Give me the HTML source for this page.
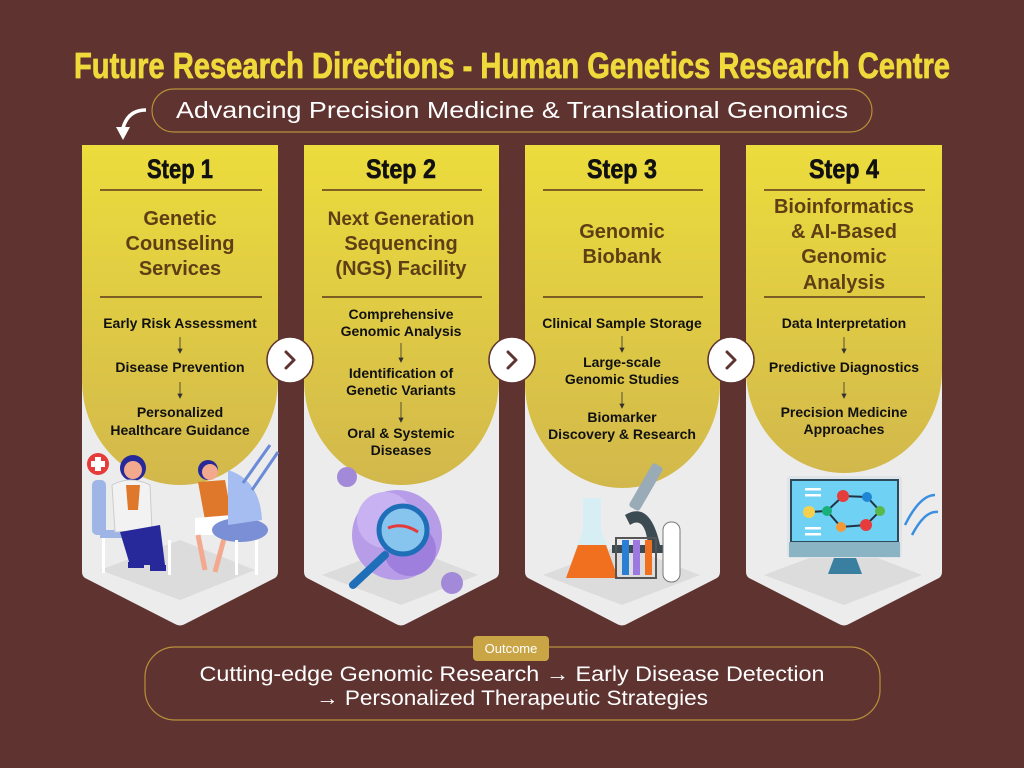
<!DOCTYPE html>
<html><head><meta charset="utf-8"><style>
html,body{margin:0;padding:0;background:#5e3330;}
svg{display:block;}
.t{font-family:"Liberation Sans",sans-serif;}
</style></head><body>
<svg width="1024" height="768" viewBox="0 0 1024 768" xmlns="http://www.w3.org/2000/svg">
<defs>
<linearGradient id="yg" x1="0" y1="0" x2="0" y2="1">
<stop offset="0" stop-color="#ecdc3c"/><stop offset="1" stop-color="#d2b84c"/>
</linearGradient>
</defs>
<rect width="1024" height="768" fill="#5e3330"/>
<text x="512" y="78" text-anchor="middle" class="t" font-size="36" font-weight="bold" fill="#f0d93a" stroke="#f0d93a" stroke-width="0.8" textLength="876" lengthAdjust="spacingAndGlyphs" style="font-family:'Liberation Sans Narrow','Liberation Sans',sans-serif">Future Research Directions - Human Genetics Research Centre</text>
<rect x="152" y="89" width="720" height="43" rx="21.5" fill="none" stroke="#b8903a" stroke-width="1.2"/>
<text x="512" y="118" text-anchor="middle" class="t" font-size="23" fill="#ffffff" textLength="672" lengthAdjust="spacingAndGlyphs">Advancing Precision Medicine &amp; Translational Genomics</text>
<path d="M146,110 Q128,110 123,128" fill="none" stroke="#fff" stroke-width="3.5"/>
<path d="M116,127 L130,127 L123,140 Z" fill="#fff"/>

<g id="cards">
<path d="M82,145 H278 V572 Q278,577 273,579 L185,624 Q180,627 175,624 L87,579 Q82,577 82,572 Z" fill="#ececec"/>
<path d="M82,145 H278 V380 A98,105 0 0 1 82,380 Z" fill="url(#yg)"/>
<path d="M304,145 H499 V572 Q499,577 494,579 L406,624 Q401,627 396,624 L309,579 Q304,577 304,572 Z" fill="#ececec"/>
<path d="M304,145 H499 V380 A97.5,105 0 0 1 304,380 Z" fill="url(#yg)"/>
<path d="M525,145 H720 V572 Q720,577 715,579 L627,624 Q622,627 617,624 L530,579 Q525,577 525,572 Z" fill="#ececec"/>
<path d="M525,145 H720 V383 A97.5,105 0 0 1 525,383 Z" fill="url(#yg)"/>
<path d="M746,145 H942 V572 Q942,577 937,579 L849,624 Q844,627 839,624 L751,579 Q746,577 746,572 Z" fill="#ececec"/>
<path d="M746,145 H942 V370 A98,103 0 0 1 746,370 Z" fill="url(#yg)"/>
</g>

<g stroke="#5a3a1a" stroke-width="1.5">
<line x1="100" y1="190" x2="262" y2="190"/><line x1="100" y1="297" x2="262" y2="297"/>
<line x1="322" y1="190" x2="482" y2="190"/><line x1="322" y1="297" x2="482" y2="297"/>
<line x1="543" y1="190" x2="703" y2="190"/><line x1="543" y1="297" x2="703" y2="297"/>
<line x1="764" y1="190" x2="925" y2="190"/><line x1="764" y1="297" x2="925" y2="297"/>
</g>

<g class="t" text-anchor="middle" font-weight="bold">
<g font-size="27" fill="#111" stroke="#111" stroke-width="0.6" style="font-family:'Liberation Sans Narrow','Liberation Sans',sans-serif">
<text x="180" y="178" textLength="66" lengthAdjust="spacingAndGlyphs">Step 1</text>
<text x="401" y="178" textLength="70" lengthAdjust="spacingAndGlyphs">Step 2</text>
<text x="622" y="178" textLength="70" lengthAdjust="spacingAndGlyphs">Step 3</text>
<text x="844" y="178" textLength="70" lengthAdjust="spacingAndGlyphs">Step 4</text>
</g>
<g font-size="20" fill="#5e3f15">
<text x="180" y="225">Genetic</text>
<text x="180" y="250">Counseling</text>
<text x="180" y="275">Services</text>
<text x="401" y="225" font-size="19">Next Generation</text>
<text x="401" y="250">Sequencing</text>
<text x="401" y="275">(NGS) Facility</text>
<text x="622" y="238">Genomic</text>
<text x="622" y="263">Biobank</text>
<text x="844" y="213">Bioinformatics</text>
<text x="844" y="238">&amp; AI-Based</text>
<text x="844" y="263">Genomic</text>
<text x="844" y="289">Analysis</text>
</g>
<g font-size="14" fill="#111">
<text x="180" y="328">Early Risk Assessment</text>
<text x="180" y="372">Disease Prevention</text>
<text x="180" y="417">Personalized</text>
<text x="180" y="435">Healthcare Guidance</text>
<text x="401" y="319">Comprehensive</text>
<text x="401" y="336">Genomic Analysis</text>
<text x="401" y="378">Identification of</text>
<text x="401" y="395">Genetic Variants</text>
<text x="401" y="438">Oral &amp; Systemic</text>
<text x="401" y="455">Diseases</text>
<text x="622" y="328">Clinical Sample Storage</text>
<text x="622" y="367">Large-scale</text>
<text x="622" y="384">Genomic Studies</text>
<text x="622" y="422">Biomarker</text>
<text x="622" y="439">Discovery &amp; Research</text>
<text x="844" y="328">Data Interpretation</text>
<text x="844" y="372">Predictive Diagnostics</text>
<text x="844" y="417">Precision Medicine</text>
<text x="844" y="434">Approaches</text>
</g>
</g>
<g stroke="#333" stroke-width="0.8" fill="#333">
<line x1="180" y1="337" x2="180" y2="351"/><line x1="180" y1="382" x2="180" y2="396"/>
<line x1="401" y1="343" x2="401" y2="360"/><line x1="401" y1="402" x2="401" y2="420"/>
<line x1="622" y1="336" x2="622" y2="350"/><line x1="622" y1="392" x2="622" y2="406"/>
<line x1="844" y1="337" x2="844" y2="351"/><line x1="844" y1="382" x2="844" y2="396"/>
<path d="M178,349 L182,349 L180,353 Z M178,394 L182,394 L180,398 Z M399,358 L403,358 L401,362 Z M399,418 L403,418 L401,422 Z M620,348 L624,348 L622,352 Z M620,404 L624,404 L622,408 Z M842,349 L846,349 L844,353 Z M842,394 L846,394 L844,398 Z"/>
</g>

<g>
<circle cx="290" cy="360" r="23" fill="#fff" stroke="#5e3330" stroke-width="1.5"/>
<path d="M286,352 L294,360 L286,368" fill="none" stroke="#5e3330" stroke-width="3" stroke-linecap="round" stroke-linejoin="round"/>
<circle cx="512" cy="360" r="23" fill="#fff" stroke="#5e3330" stroke-width="1.5"/>
<path d="M508,352 L516,360 L508,368" fill="none" stroke="#5e3330" stroke-width="3" stroke-linecap="round" stroke-linejoin="round"/>
<circle cx="731" cy="360" r="23" fill="#fff" stroke="#5e3330" stroke-width="1.5"/>
<path d="M727,352 L735,360 L727,368" fill="none" stroke="#5e3330" stroke-width="3" stroke-linecap="round" stroke-linejoin="round"/>
</g>

<path d="M100,570 L180,540 L255,570 L180,600 Z" fill="#dcdcdc"/>
<circle cx="98" cy="464" r="11" fill="#e63b3b"/><rect x="95" y="457" width="6" height="14" fill="#fff"/><rect x="91" y="461" width="14" height="6" fill="#fff"/>
<rect x="92" y="480" width="14" height="55" rx="5" fill="#9fb5e6"/>
<rect x="100" y="530" width="35" height="8" fill="#9fb5e6"/>
<rect x="102" y="538" width="3" height="35" fill="#fff"/>
<circle cx="133" cy="468" r="13" fill="#27289a"/><circle cx="133" cy="470" r="9" fill="#f3a98e"/>
<path d="M112,485 Q130,475 150,485 L152,530 L115,532 Z" fill="#f2f2f2" stroke="#ccc"/>
<path d="M126,485 L140,485 L138,510 L128,510 Z" fill="#e0782c"/>
<path d="M120,532 L160,525 L165,565 L130,565 Z" fill="#27289a"/>
<rect x="128" y="562" width="16" height="6" fill="#27289a"/><rect x="150" y="565" width="16" height="6" fill="#27289a"/>
<rect x="168" y="540" width="3" height="35" fill="#fff"/>
<circle cx="208" cy="470" r="10" fill="#27289a"/><circle cx="210" cy="472" r="8" fill="#f3a98e"/>
<path d="M198,482 L225,480 L232,518 L205,520 Z" fill="#e0782c"/>
<path d="M195,518 L232,515 L235,535 L195,535 Z" fill="#fff"/>
<path d="M198,535 L205,570 M225,535 L215,572" stroke="#f3a98e" stroke-width="5"/>
<ellipse cx="240" cy="530" rx="28" ry="12" fill="#7b8fd6"/>
<path d="M228,470 Q260,480 262,520 L228,525 Z" fill="#a5bdf0"/>
<rect x="235" y="540" width="3" height="35" fill="#fff"/><rect x="255" y="540" width="3" height="35" fill="#fff"/>
<path d="M243,483 L270,445 M252,490 L278,452" stroke="#6b8ad8" stroke-width="3"/>
<path d="M322,575 L401,545 L478,575 L401,605 Z" fill="#dcdcdc"/>
<circle cx="347" cy="477" r="10" fill="#a38ad8"/>
<circle cx="452" cy="583" r="11" fill="#a38ad8"/>
<circle cx="397" cy="535" r="45" fill="#b79de8"/>
<circle cx="385" cy="520" r="28" fill="#c9b2f2"/>
<circle cx="410" cy="550" r="26" fill="#9e7fdd"/>
<line x1="385" y1="555" x2="353" y2="585" stroke="#1f6fb8" stroke-width="8" stroke-linecap="round"/>
<circle cx="403" cy="530" r="24" fill="#87c4ee" stroke="#1f6fb8" stroke-width="5"/>
<path d="M388,528 Q403,522 418,532" stroke="#e43b3b" stroke-width="3" fill="none"/>
<path d="M543,575 L622,545 L700,575 L622,605 Z" fill="#dcdcdc"/>
<rect x="640" y="462" width="12" height="50" rx="3" transform="rotate(30 646 487)" fill="#9aabb8"/>
<path d="M625,515 Q650,500 660,545 L648,545 Q645,515 630,525 Z" fill="#3c4a52"/>
<rect x="612" y="545" width="55" height="8" fill="#3c4a52"/>
<path d="M590,498 L601,498 L601,530 L618,578 L566,578 L583,530 L583,498 Z" fill="#d8eef5"/>
<path d="M578,545 L606,545 L618,578 L566,578 Z" fill="#f07020"/>
<rect x="616" y="538" width="40" height="40" fill="none" stroke="#555" stroke-width="2"/>
<rect x="622" y="540" width="7" height="35" fill="#2a7fd4"/><rect x="633" y="540" width="7" height="35" fill="#9d78e0"/><rect x="645" y="540" width="7" height="35" fill="#f07020"/>
<rect x="663" y="522" width="17" height="60" rx="8" fill="#fff" stroke="#777"/>
<path d="M764,575 L844,545 L922,575 L844,605 Z" fill="#dcdcdc"/>
<rect x="787" y="476" width="115" height="82" rx="3" fill="#dfe4e8"/>
<rect x="791" y="480" width="107" height="62" fill="#6fd2f5" stroke="#2c4a5a" stroke-width="2"/>
<rect x="789" y="542" width="111" height="15" fill="#8ab3c4"/>
<path d="M834,558 L856,558 L862,574 L828,574 Z" fill="#3b7fa0"/>
<path d="M809,512 L827,511 L843,496 L867,497 L880,511 L866,525 L841,527 L827,511" fill="none" stroke="#234" stroke-width="2"/>
<circle cx="809" cy="512" r="6" fill="#f7d04e"/><circle cx="827" cy="511" r="5" fill="#18b07a"/><circle cx="843" cy="496" r="6" fill="#e53c3c"/><circle cx="867" cy="497" r="5" fill="#1f86d6"/><circle cx="880" cy="511" r="5" fill="#58b84a"/><circle cx="866" cy="525" r="6" fill="#e53c3c"/><circle cx="841" cy="527" r="5" fill="#f39a36"/>
<rect x="805" y="488" width="16" height="2.5" fill="#fff"/><rect x="805" y="494" width="16" height="2.5" fill="#fff"/><rect x="805" y="527" width="16" height="2.5" fill="#fff"/><rect x="805" y="533" width="16" height="2.5" fill="#fff"/>
<path d="M905,525 Q920,495 935,495 M912,535 Q925,510 938,512" stroke="#3b8fe0" stroke-width="2.5" fill="none"/>

<rect x="145" y="647" width="735" height="73" rx="30" fill="none" stroke="#b8903a" stroke-width="1.2"/>
<rect x="473" y="636" width="76" height="25" rx="4" fill="#c9a545"/>
<text x="511" y="653" text-anchor="middle" class="t" font-size="13" fill="#fff">Outcome</text>
<text x="512" y="681" text-anchor="middle" class="t" font-size="21" fill="#fff" textLength="625" lengthAdjust="spacingAndGlyphs">Cutting-edge Genomic Research → Early Disease Detection</text>
<text x="512" y="705" text-anchor="middle" class="t" font-size="21" fill="#fff" textLength="392" lengthAdjust="spacingAndGlyphs">→ Personalized Therapeutic Strategies</text>
</svg>
</body></html>
